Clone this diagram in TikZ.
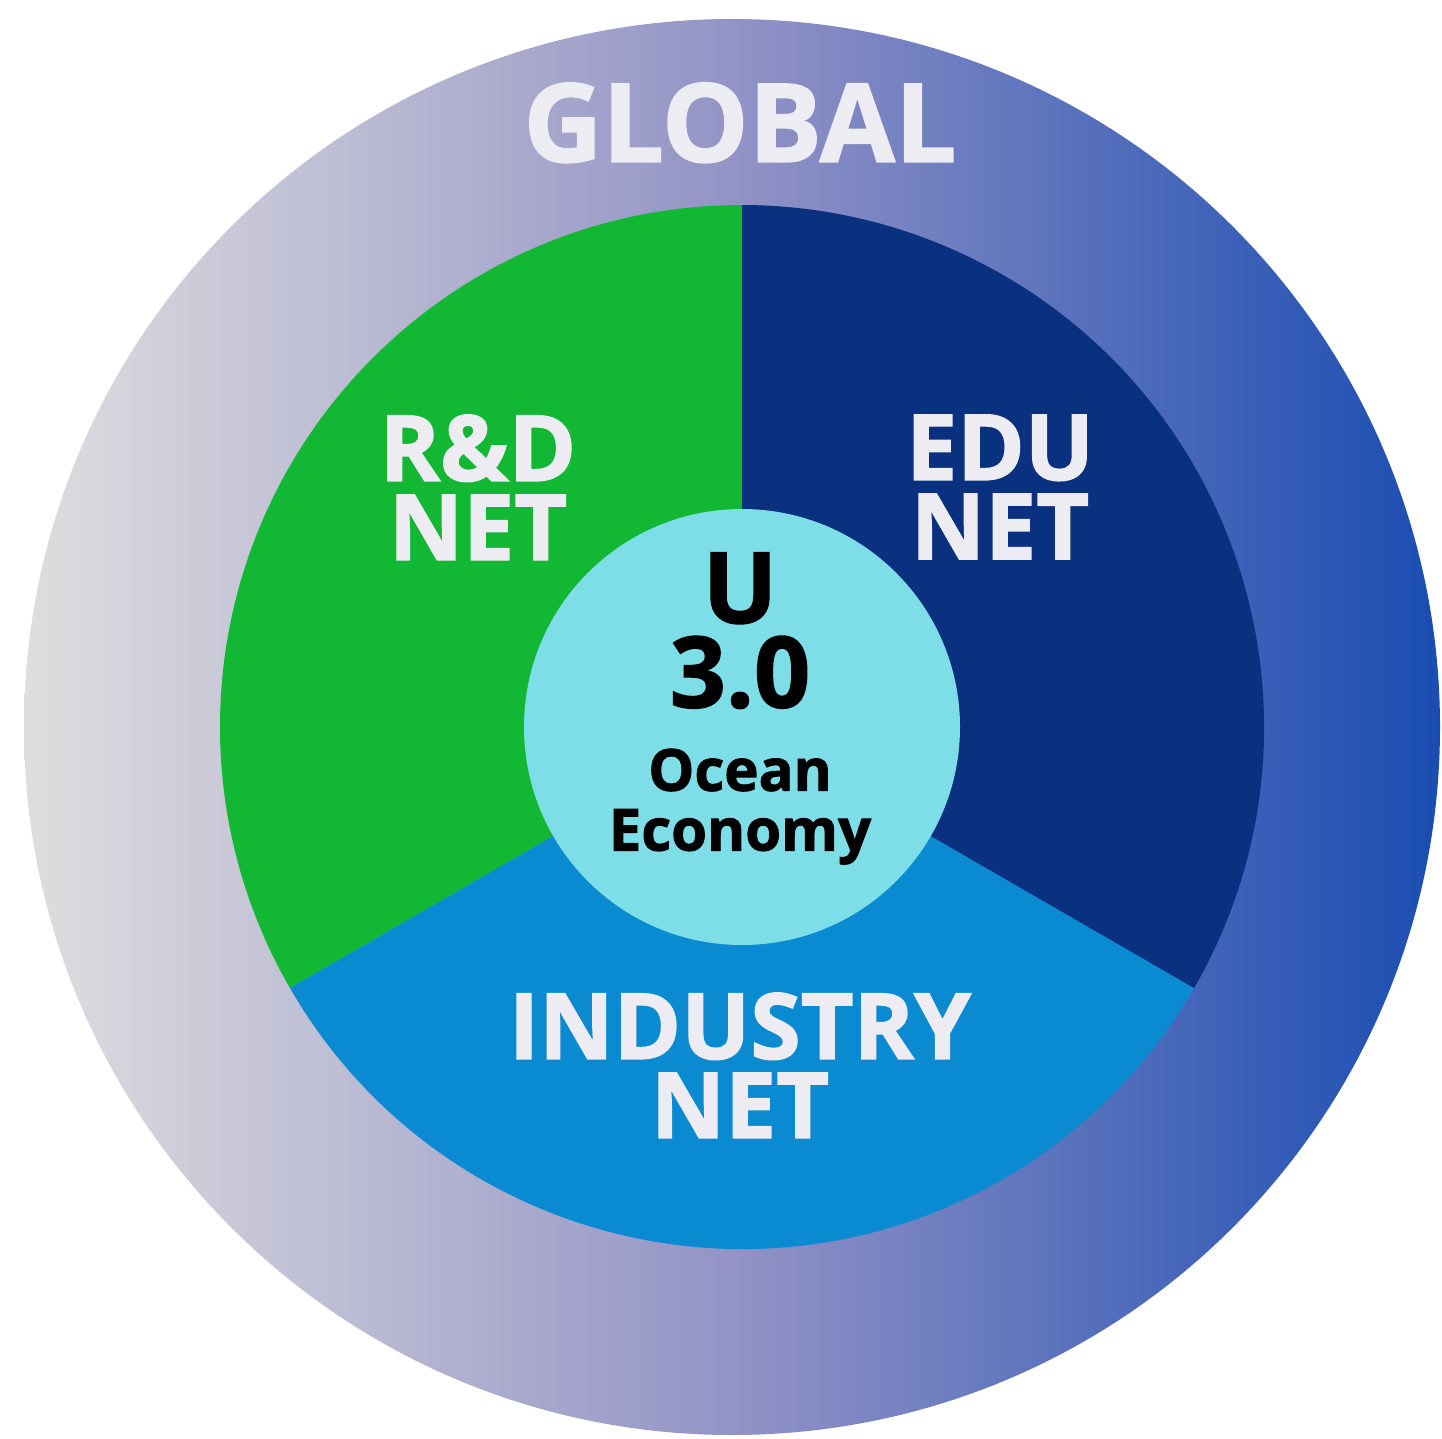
\documentclass[tikz,border=0pt]{standalone}
\usepackage{fontspec}
\setmainfont{Open Sans}[BoldFeatures={FakeBold=1.5}]
\definecolor{rdgreen}{HTML}{12B834}
\definecolor{edunavy}{HTML}{0A3180}
\definecolor{indblue}{HTML}{0A8AD0}
\definecolor{corecyan}{HTML}{7EDEE8}
\definecolor{labelwhite}{HTML}{ECECF2}
\definecolor{ringgray}{HTML}{DEDEDF}
\definecolor{ringlilac}{HTML}{9393C6}
\definecolor{ringblue}{HTML}{1A4DB2}
\begin{document}
\begin{tikzpicture}[x=0.01cm,y=0.01cm,
    netlabel/.style={text=labelwhite,align=center,inner sep=0pt,anchor=north,
        font=\fontsize{26}{22.5}\selectfont\bfseries},
    corelabel/.style={text=black,align=center,inner sep=0pt,anchor=north}]
    \useasboundingbox (0,0) rectangle (1442,-1439);
    \coordinate (O) at (732,-727);
    \coordinate (C) at (742,-727);

    \shade[left color=ringgray,right color=ringblue,middle color=ringlilac]
        (O) circle (708);
    \fill[rdgreen] (C) -- ++(90:522) arc[start angle=90,end angle=210,radius=522] -- cycle;
    \fill[indblue] (C) -- ++(210:522) arc[start angle=210,end angle=330,radius=522] -- cycle;
    \fill[edunavy] (C) -- ++(330:522) arc[start angle=330,end angle=450,radius=522] -- cycle;
    \fill[corecyan] (C) circle (218);

    \node[netlabel,font=\fontsize{31}{31}\selectfont\bfseries] (global) at (740,-82) {GLOBAL};
    \node[netlabel] (rdnet) at (478,-414) {R\&D\\NET};
    \node[netlabel] (edunet) at (1000,-414) {EDU\\NET};
    \node[netlabel] (indnet) at (740,-992) {INDUSTRY\\NET};
    \node[corelabel,font=\fontsize{28}{24}\selectfont\bfseries] (u30) at (740,-552) {U\\3.0};
    \node[corelabel,font=\fontsize{16.5}{17}\selectfont\bfseries] (ocean) at (740,-748) {Ocean\\Economy};
\end{tikzpicture}
\end{document}
